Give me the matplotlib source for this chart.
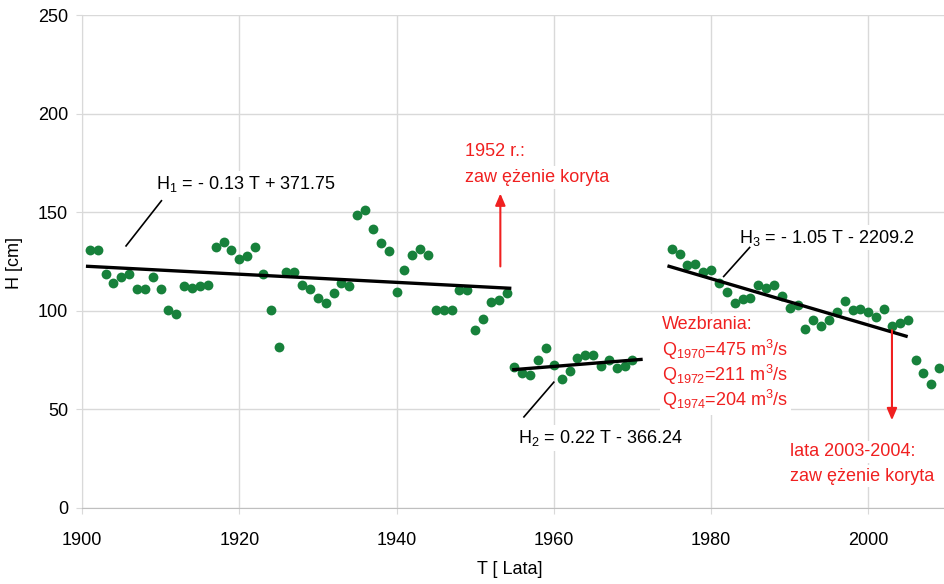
import numpy as np
import matplotlib
matplotlib.use('Agg')
import matplotlib.pyplot as plt

plt.rcParams['font.family'] = ['Liberation Sans', 'DejaVu Sans']
plt.rcParams['mathtext.fontset'] = 'custom'
plt.rcParams['mathtext.rm'] = 'Liberation Sans'
plt.rcParams['mathtext.it'] = 'Liberation Sans'
plt.rcParams['mathtext.default'] = 'regular'

# Measured water levels H [cm] per year
years1 = np.arange(1901, 1955)
h1 = [130.9, 130.9, 118.5, 114.1, 116.9, 118.5, 110.9, 110.9, 116.9, 110.9,
      100.3, 98.4, 112.4, 111.8, 112.6, 113.3, 132.6, 134.8, 130.9, 126.3,
      128.0, 132.6, 118.5, 100.3, 81.8, 119.7, 119.7, 113.3, 110.9, 106.5,
      103.8, 109.1, 114.1, 112.6, 148.7, 151.2, 141.4, 134.6, 130.2, 109.7,
      120.6, 128.4, 131.2, 128.2, 100.3, 100.3, 100.3, 110.8, 110.8, 90.4,
      96.0, 104.7, 105.5, 108.9]

years2 = np.arange(1955, 1971)
h2 = [71.3, 68.6, 67.2, 75.0, 80.9, 72.7, 65.2, 69.4, 75.9, 77.5,
      77.5, 72.0, 75.0, 71.1, 72.0, 74.8]

years3 = np.arange(1975, 2010)
h3 = [131.3, 128.7, 123.3, 123.6, 119.9, 120.6, 114.0, 109.6, 104.2, 105.8,
      106.3, 113.1, 111.4, 113.1, 107.5, 101.6, 103.0, 90.6, 95.3, 92.3,
      95.3, 99.2, 105.0, 100.4, 100.8, 99.6, 96.9, 100.8, 92.1, 94.0,
      95.3, 75.0, 68.6, 62.8, 70.9]

# Trend line end points (as drawn)
trend1_x = [1900.5, 1954.6]
trend1_y = [122.6, 111.4]
trend2_x = [1954.7, 1971.3]
trend2_y = [70.1, 75.4]
trend3_x = [1974.45, 2005.0]
trend3_y = [122.8, 86.9]

green = '#17813b'
red = '#f02020'
grid_c = '#d9d9d9'

fig = plt.figure(figsize=(9.44, 5.84), dpi=100)
ax = fig.add_axes([82 / 944, 76 / 584, 865 / 944, 493 / 584])

for x, y in [(years1, h1), (years2, h2), (years3, h3)]:
    ax.scatter(x, y, s=50, color=green, zorder=3, linewidths=0)

for tx, ty in [(trend1_x, trend1_y), (trend2_x, trend2_y), (trend3_x, trend3_y)]:
    ax.plot(tx, ty, color='black', lw=2.4, zorder=4, solid_capstyle='butt')

# leader lines to the equations
ax.plot([1910.1, 1905.6], [155.8, 132.9], color='black', lw=1.2, zorder=4)
ax.plot([1960.0, 1956.2], [63.8, 46.2], color='black', lw=1.2, zorder=4)
ax.plot([1984.9, 1981.6], [132.1, 117.4], color='black', lw=1.2, zorder=4)

box = dict(facecolor='white', edgecolor='none', pad=2)
fs = 13
ax.text(1909.4, 161.7, 'H$_1$ = - 0.13 T + 371.75', fontsize=fs, va='baseline', bbox=box, zorder=2)
ax.text(1955.5, 33.0, 'H$_2$ = 0.22 T - 366.24', fontsize=fs, va='baseline', bbox=box, zorder=2)
ax.text(1983.6, 134.6, 'H$_3$ = - 1.05 T - 2209.2', fontsize=fs, va='baseline', bbox=box, zorder=2)

ax.text(1948.7, 178.4, '1952 r.:', fontsize=fs, color=red, va='baseline', bbox=box, zorder=2)
ax.text(1948.7, 165.4, 'zaw ężenie koryta', fontsize=fs, color=red, va='baseline', bbox=box, zorder=2)

ax.text(1973.8, 90.6, 'Wezbrania:', fontsize=fs, color=red, va='baseline', bbox=box, zorder=2)
ax.text(1973.8, 77.0, 'Q$_{1970}$=475 m$^3$/s', fontsize=fs, color=red, va='baseline', bbox=box, zorder=2)
ax.text(1973.8, 64.3, 'Q$_{1972}$=211 m$^3$/s', fontsize=fs, color=red, va='baseline', bbox=box, zorder=2)
ax.text(1973.8, 51.6, 'Q$_{1974}$=204 m$^3$/s', fontsize=fs, color=red, va='baseline', bbox=box, zorder=2)

ax.text(1990.0, 26.2, 'lata 2003-2004:', fontsize=fs, color=red, va='baseline', bbox=box, zorder=2)
ax.text(1990.0, 13.9, 'zaw ężenie koryta', fontsize=fs, color=red, va='baseline', bbox=box, zorder=2)

arrow = dict(arrowstyle='-|>,head_length=0.7,head_width=0.3', color=red, lw=1.5, shrinkA=0, shrinkB=0)
ax.annotate('', xy=(1953.2, 159.5), xytext=(1953.2, 122.5), arrowprops=arrow, zorder=5)
ax.annotate('', xy=(2003.0, 44.5), xytext=(2003.0, 90.2), arrowprops=arrow, zorder=5)

ax.set_xlim(1900, 2010)
ax.set_ylim(0, 250)
ax.set_xticks([1900, 1920, 1940, 1960, 1980, 2000])
ax.set_yticks([0, 50, 100, 150, 200, 250])
ax.grid(True, color=grid_c, lw=1)
ax.set_axisbelow(True)
for s in ['top', 'right']:
    ax.spines[s].set_visible(False)
ax.spines['left'].set_color(grid_c)
ax.spines['bottom'].set_color('#bfbfbf')
ax.tick_params(axis='both', colors=grid_c, labelcolor='black', labelsize=fs, length=4)
ax.tick_params(axis='x', pad=13)
ax.tick_params(axis='y', pad=6)

ax.set_xlabel('T [ Lata]', fontsize=fs)
ax.set_ylabel('H [cm]', fontsize=fs)
ax.xaxis.set_label_coords(0.495, -0.108)
ax.yaxis.set_label_coords(-0.068, 0.497)

fig.savefig('out.png', dpi=100)
